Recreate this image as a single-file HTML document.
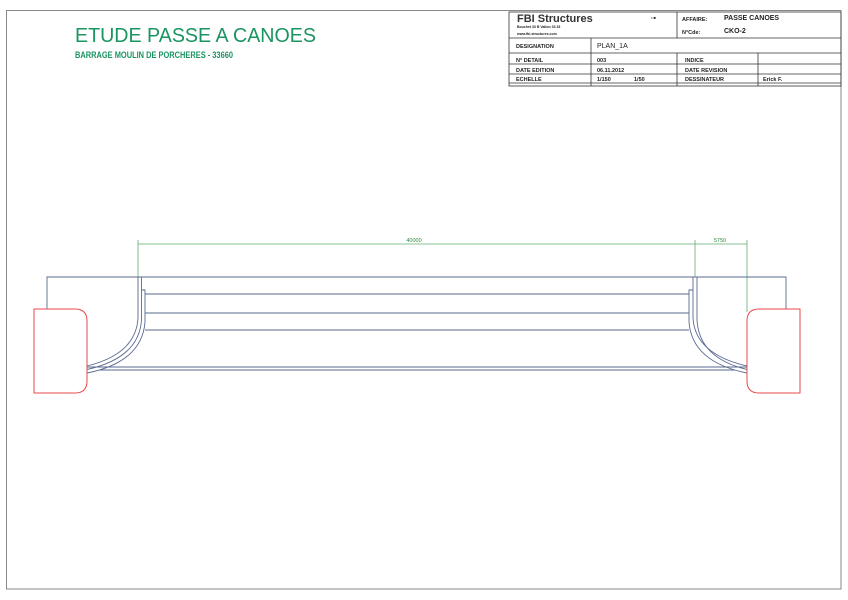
<!DOCTYPE html>
<html><head><meta charset="utf-8"><style>
html,body{margin:0;padding:0;background:#fff;width:848px;height:600px;overflow:hidden}
svg{display:block}
text{font-family:"Liberation Sans",sans-serif}
</style></head><body>
<svg width="848" height="600" viewBox="0 0 848 600" xmlns="http://www.w3.org/2000/svg">
<rect x="6.5" y="10.5" width="834.5" height="578.5" fill="none" stroke="#888" stroke-width="1"/>
<text x="75" y="42" font-size="20.5" fill="#1a9460" textLength="241" lengthAdjust="spacingAndGlyphs">ETUDE PASSE A CANOES</text>
<text x="75" y="58" font-size="9" font-weight="bold" fill="#1a9460" textLength="158" lengthAdjust="spacingAndGlyphs">BARRAGE MOULIN DE PORCHERES - 33660</text>

<g stroke="#333" stroke-width="0.8" fill="none">
<rect x="509" y="12" width="332" height="74"/>
<line x1="509" y1="38" x2="841" y2="38"/>
<line x1="509" y1="53" x2="841" y2="53"/>
<line x1="509" y1="64" x2="841" y2="64"/>
<line x1="509" y1="74" x2="841" y2="74"/>
<line x1="509" y1="83" x2="841" y2="83"/>
<line x1="677" y1="12" x2="677" y2="38"/>
<line x1="591" y1="38" x2="591" y2="86"/>
<line x1="677" y1="53" x2="677" y2="86"/>
<line x1="758" y1="53" x2="758" y2="86"/>
</g>
<g fill="#222" font-size="5.5" font-weight="bold">
<text x="517" y="22" font-size="11" font-weight="bold" fill="#333">FBI Structures</text>
<text x="517" y="28" font-size="3.5">Bouchet 33 B Vallon 33 33</text>
<text x="517" y="35" font-size="3.5">www.fbi-structures.com</text>
<text x="651" y="19" font-size="4">• ■</text>
<text x="682" y="21">AFFAIRE:</text>
<text x="724" y="20" font-size="7">PASSE CANOES</text>
<text x="682" y="34">N°Cde:</text>
<text x="724" y="33" font-size="7">CKO-2</text>
<text x="516" y="48">DESIGNATION</text>
<text x="597" y="48" font-size="7" font-weight="normal">PLAN_1A</text>
<text x="516" y="62">N° DETAIL</text>
<text x="597" y="62">003</text>
<text x="685" y="62">INDICE</text>
<text x="516" y="72">DATE EDITION</text>
<text x="597" y="72">06.11.2012</text>
<text x="685" y="72">DATE REVISION</text>
<text x="516" y="81">ECHELLE</text>
<text x="597" y="81">1/150</text>
<text x="634" y="81">1/50</text>
<text x="685" y="81">DESSINATEUR</text>
<text x="763" y="81">Erick F.</text>
</g>

<g stroke="#5fae6e" stroke-width="0.8" fill="none">
<line x1="138" y1="244" x2="747" y2="244"/>
<line x1="138" y1="240" x2="138" y2="277"/>
<line x1="695" y1="240" x2="695" y2="277"/>
<line x1="747" y1="240" x2="747" y2="312"/>
</g>
<text x="414" y="242" font-size="5.5" fill="#2a8a45" text-anchor="middle">40000</text>
<text x="720" y="242" font-size="5.5" fill="#2a8a45" text-anchor="middle">5750</text>

<g stroke="#5a6a90" stroke-width="0.9" fill="none">
<polyline points="47,309 47,277 786,277 786,309"/>
<line x1="145" y1="294" x2="689" y2="294"/>
<line x1="145" y1="313" x2="689" y2="313"/>
<line x1="145" y1="330" x2="689" y2="330"/>
<line x1="87" y1="367" x2="747" y2="367"/>
<line x1="100" y1="370" x2="735" y2="370"/>
<path d="M138,277 L138,318 Q136,354 87,366"/>
<path d="M141.5,277 L141.5,320 Q139,358 87,369.5"/>
<path d="M141.5,290 L145,290 L145,322 Q142,362 87,373"/>
<path d="M693,277 L693,318 Q695,354 747,366"/>
<path d="M697,277 L697,320 Q699,358 747,369.5"/>
<path d="M693,290 L689,290 L689,322 Q692,362 747,373"/>
</g>
<g stroke="#e84a4a" stroke-width="1" fill="none">
<path d="M34,309 L75,309 Q87,309 87,321 L87,381 Q87,393 75,393 L34,393 Z"/>
<path d="M800,309 L759,309 Q747,309 747,321 L747,381 Q747,393 759,393 L800,393 Z"/>
</g>
</svg>
</body></html>
